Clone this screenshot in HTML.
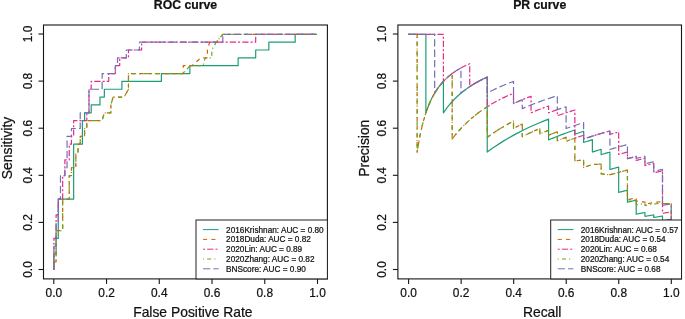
<!DOCTYPE html><html><head><meta charset="utf-8"><title>ROC and PR curves</title><style>html,body{margin:0;padding:0;background:#fff}svg{display:block;will-change:transform}text{font-family:"Liberation Sans",Arial,Helvetica,sans-serif;fill:#111;stroke:#111;stroke-width:0.22px}</style></head><body>
<svg width="685" height="319" viewBox="0 0 685 319">
<rect width="685" height="319" fill="#fff"/>
<path d="M53.90,269.80 L53.90,254.10 L56.09,254.10 L56.09,238.40 L58.29,238.40 L58.29,199.15 L73.64,199.15 L73.64,144.20 L82.41,144.20 L82.41,120.65 L84.61,120.65 L84.61,112.80 L91.19,112.80 L91.19,104.95 L99.96,104.95 L99.96,97.10 L104.35,97.10 L104.35,89.25 L121.89,89.25 L121.89,81.40 L161.37,81.40 L161.37,73.55 L189.89,73.55 L189.89,65.70 L238.14,65.70 L238.14,57.85 L255.69,57.85 L255.69,50.00 L268.85,50.00 L268.85,42.15 L295.17,42.15 L295.17,34.30 L317.10,34.30" fill="none" stroke="#1B9E77" stroke-width="1.2" stroke-linejoin="round"/>
<path d="M53.90,269.80 L53.90,261.95 L56.09,261.95 L56.09,230.55 L62.67,230.55 L62.67,199.15 L69.25,199.15 L69.25,175.60 L71.45,175.60 L71.45,167.75 L75.83,167.75 L75.83,152.05 L78.03,152.05 L78.03,144.20 L80.22,144.20 L80.22,136.35 L84.61,136.35 L84.61,128.50 L86.80,128.50 L86.80,120.65 L102.15,120.65 L104.35,112.80 L110.93,112.80 L110.93,104.95 L113.12,97.10 L124.09,97.10 L128.47,89.25 L128.47,73.55 L183.31,73.55 L183.31,65.70 L192.08,65.70 L200.85,57.85 L207.43,57.85 L207.43,50.00 L209.63,42.15 L216.21,42.15 L222.79,34.30 L317.10,34.30" fill="none" stroke="#D95F02" stroke-width="1.2" stroke-dasharray="4.16,4.16" stroke-linejoin="round"/>
<path d="M53.90,269.80 L53.90,238.40 L56.09,238.40 L56.09,214.85 L58.29,214.85 L58.29,199.15 L62.67,199.15 L62.67,175.60 L64.87,175.60 L64.87,159.90 L69.25,159.90 L69.25,144.20 L71.45,144.20 L71.45,136.35 L73.64,136.35 L73.64,120.65 L86.80,120.65 L86.80,112.80 L88.99,112.80 L88.99,89.25 L91.19,89.25 L91.19,81.40 L108.73,81.40 L108.73,73.55 L115.31,73.55 L115.31,65.70 L119.70,65.70 L119.70,57.85 L128.47,57.85 L128.47,50.00 L141.63,50.00 L141.63,42.15 L255.69,42.15 L255.69,34.30 L317.10,34.30" fill="none" stroke="#E7298A" stroke-width="1.2" stroke-dasharray="2.08,2.08,6.24,2.08" stroke-linejoin="round"/>
<path d="M53.90,269.80 L53.90,261.95 L56.09,261.95 L56.09,230.55 L62.67,230.55 L62.67,199.15 L69.25,199.15 L69.25,175.60 L71.45,175.60 L71.45,167.75 L75.83,167.75 L75.83,152.05 L78.03,152.05 L78.03,144.20 L80.22,144.20 L80.22,136.35 L84.61,136.35 L84.61,128.50 L86.80,128.50 L86.80,120.65 L102.15,120.65 L104.35,112.80 L110.93,112.80 L110.93,104.95 L113.12,97.10 L124.09,97.10 L128.47,89.25 L128.47,73.55 L183.31,73.55 L189.89,65.70 L203.05,65.70 L205.24,57.85 L211.82,57.85 L211.82,50.00 L216.21,42.15 L222.79,34.30 L317.10,34.30" fill="none" stroke="#66A61E" stroke-width="1.2" stroke-dasharray="1.04,3.12,4.16,3.12" stroke-linejoin="round"/>
<path d="M53.90,269.80 L53.90,246.25 L56.09,246.25 L56.09,222.70 L58.29,222.70 L58.29,199.15 L60.48,199.15 L60.48,175.60 L64.87,175.60 L64.87,167.75 L67.06,167.75 L67.06,136.35 L71.45,136.35 L71.45,128.50 L80.22,128.50 L80.22,112.80 L88.99,112.80 L88.99,89.25 L102.15,89.25 L102.15,73.55 L115.31,73.55 L115.31,65.70 L117.51,65.70 L117.51,57.85 L126.28,57.85 L126.28,50.00 L139.44,50.00 L139.44,42.15 L222.79,42.15 L222.79,34.30 L317.10,34.30" fill="none" stroke="#7570B3" stroke-width="1.2" stroke-dasharray="7.28,3.12" stroke-linejoin="round"/>
<rect x="43.5" y="25.0" width="283.9" height="253.89999999999998" fill="none" stroke="#151515" stroke-width="1.1"/>
<line x1="53.80" y1="278.9" x2="53.80" y2="283.9" stroke="#151515" stroke-width="1.1"/>
<line x1="43.5" y1="269.50" x2="38.5" y2="269.50" stroke="#151515" stroke-width="1.1"/>
<text x="53.80" y="296.8" font-size="11.9" text-anchor="middle">0.0</text>
<text transform="translate(31.90,269.50) rotate(-90)" font-size="11.9" text-anchor="middle">0.0</text>
<line x1="106.54" y1="278.9" x2="106.54" y2="283.9" stroke="#151515" stroke-width="1.1"/>
<line x1="43.5" y1="222.40" x2="38.5" y2="222.40" stroke="#151515" stroke-width="1.1"/>
<text x="106.54" y="296.8" font-size="11.9" text-anchor="middle">0.2</text>
<text transform="translate(31.90,222.40) rotate(-90)" font-size="11.9" text-anchor="middle">0.2</text>
<line x1="159.28" y1="278.9" x2="159.28" y2="283.9" stroke="#151515" stroke-width="1.1"/>
<line x1="43.5" y1="175.30" x2="38.5" y2="175.30" stroke="#151515" stroke-width="1.1"/>
<text x="159.28" y="296.8" font-size="11.9" text-anchor="middle">0.4</text>
<text transform="translate(31.90,175.30) rotate(-90)" font-size="11.9" text-anchor="middle">0.4</text>
<line x1="212.02" y1="278.9" x2="212.02" y2="283.9" stroke="#151515" stroke-width="1.1"/>
<line x1="43.5" y1="128.20" x2="38.5" y2="128.20" stroke="#151515" stroke-width="1.1"/>
<text x="212.02" y="296.8" font-size="11.9" text-anchor="middle">0.6</text>
<text transform="translate(31.90,128.20) rotate(-90)" font-size="11.9" text-anchor="middle">0.6</text>
<line x1="264.76" y1="278.9" x2="264.76" y2="283.9" stroke="#151515" stroke-width="1.1"/>
<line x1="43.5" y1="81.10" x2="38.5" y2="81.10" stroke="#151515" stroke-width="1.1"/>
<text x="264.76" y="296.8" font-size="11.9" text-anchor="middle">0.8</text>
<text transform="translate(31.90,81.10) rotate(-90)" font-size="11.9" text-anchor="middle">0.8</text>
<line x1="317.50" y1="278.9" x2="317.50" y2="283.9" stroke="#151515" stroke-width="1.1"/>
<line x1="43.5" y1="34.00" x2="38.5" y2="34.00" stroke="#151515" stroke-width="1.1"/>
<text x="317.50" y="296.8" font-size="11.9" text-anchor="middle">1.0</text>
<text transform="translate(31.90,34.00) rotate(-90)" font-size="11.9" text-anchor="middle">1.0</text>
<text x="192.9" y="316.7" font-size="13.86" text-anchor="middle">False Positive Rate</text>
<text transform="translate(11.5,148) rotate(-90)" font-size="13.86" text-anchor="middle">Sensitivity</text>
<text x="185.45" y="8.9" font-size="12.25" font-weight="bold" text-anchor="middle">ROC curve</text>
<rect x="196.0" y="220.0" width="131.39999999999998" height="58.89999999999998" fill="#fff" stroke="#222" stroke-width="1"/>
<line x1="203.0" y1="229.60" x2="218.7" y2="229.60" stroke="#1B9E77" stroke-width="1.0"/>
<text x="226.1" y="232.50" font-size="8.22">2016Krishnan: AUC = 0.80</text>
<line x1="203.0" y1="239.40" x2="218.7" y2="239.40" stroke="#D95F02" stroke-width="1.0" stroke-dasharray="4.16,4.16"/>
<text x="226.1" y="242.30" font-size="8.22">2018Duda: AUC = 0.82</text>
<line x1="203.0" y1="249.20" x2="218.7" y2="249.20" stroke="#E7298A" stroke-width="1.0" stroke-dasharray="2.08,2.08,6.24,2.08"/>
<text x="226.1" y="252.10" font-size="8.22">2020Lin: AUC = 0.89</text>
<line x1="203.0" y1="259.00" x2="218.7" y2="259.00" stroke="#66A61E" stroke-width="1.0" stroke-dasharray="1.04,3.12,4.16,3.12"/>
<text x="226.1" y="261.90" font-size="8.22">2020Zhang: AUC = 0.82</text>
<line x1="203.0" y1="268.80" x2="218.7" y2="268.80" stroke="#7570B3" stroke-width="1.0" stroke-dasharray="7.28,3.12"/>
<text x="226.1" y="271.70" font-size="8.22">BNScore: AUC = 0.90</text>
<path d="M408.36,34.30 L409.82,34.30 L411.28,34.30 L412.74,34.30 L414.20,34.30 L415.66,34.30 L417.12,34.30 L418.58,34.30 L420.04,34.30 L421.50,34.30 L422.97,34.30 L424.43,34.30 L425.89,34.30 L425.89,112.80 L427.35,108.67 L428.81,104.95 L430.27,101.59 L431.73,98.53 L433.19,95.73 L434.65,93.18 L436.11,90.82 L437.57,88.65 L439.03,86.63 L440.49,84.76 L441.95,83.02 L443.41,81.40 L443.41,112.80 L447.06,107.70 L450.72,103.23 L454.37,99.27 L458.02,95.73 L461.67,92.57 L465.32,89.71 L468.97,87.12 L472.62,84.76 L476.28,82.61 L479.93,80.63 L483.58,78.80 L487.23,77.12 L487.23,152.05 L492.34,148.35 L497.45,144.88 L502.57,141.62 L507.68,138.54 L512.79,135.63 L517.90,132.88 L523.01,130.28 L528.13,127.81 L533.24,125.46 L538.35,123.23 L543.46,121.11 L548.57,119.08 L548.57,139.87 L550.76,138.97 L552.95,138.08 L555.15,137.21 L557.34,136.35 L559.53,135.51 L561.72,134.68 L563.91,133.86 L566.10,133.06 L568.29,132.27 L570.48,131.49 L572.67,130.73 L574.86,129.97 L574.86,134.21 L575.59,133.96 L576.32,133.71 L577.05,133.46 L577.78,133.21 L578.51,132.96 L579.25,132.72 L579.98,132.47 L580.71,132.23 L581.44,131.99 L582.17,131.75 L582.90,131.51 L583.63,131.27 L583.63,142.50 L584.36,142.26 L585.09,142.02 L585.82,141.78 L586.55,141.54 L587.28,141.30 L588.01,141.06 L588.74,140.82 L589.47,140.59 L590.20,140.35 L590.93,140.12 L591.66,139.89 L592.39,139.66 L592.39,152.05 L593.12,151.82 L593.85,151.58 L594.58,151.35 L595.31,151.12 L596.04,150.89 L596.77,150.66 L597.50,150.44 L598.23,150.21 L598.96,149.98 L599.69,149.76 L600.42,149.53 L601.15,149.31 L601.15,154.67 L601.88,154.44 L602.61,154.22 L603.34,154.00 L604.07,153.78 L604.80,153.56 L605.53,153.34 L606.27,153.13 L607.00,152.91 L607.73,152.69 L608.46,152.48 L609.19,152.26 L609.92,152.05 L609.92,169.49 L610.65,169.29 L611.38,169.08 L612.11,168.87 L612.84,168.67 L613.57,168.46 L614.30,168.25 L615.03,168.05 L615.76,167.85 L616.49,167.64 L617.22,167.44 L617.95,167.24 L618.68,167.04 L618.68,192.38 L619.41,192.20 L620.14,192.02 L620.87,191.84 L621.60,191.66 L622.33,191.48 L623.06,191.30 L623.79,191.12 L624.52,190.94 L625.25,190.77 L625.98,190.59 L626.71,190.41 L627.44,190.24 L627.44,202.13 L628.17,201.97 L628.90,201.81 L629.63,201.65 L630.36,201.49 L631.09,201.33 L631.83,201.17 L632.56,201.01 L633.29,200.85 L634.02,200.69 L634.75,200.54 L635.48,200.38 L636.21,200.22 L636.21,214.14 L636.94,214.00 L637.67,213.86 L638.40,213.73 L639.13,213.59 L639.86,213.46 L640.59,213.32 L641.32,213.19 L642.05,213.05 L642.78,212.92 L643.51,212.78 L644.24,212.65 L644.97,212.52 L644.97,216.37 L645.70,216.24 L646.43,216.11 L647.16,215.99 L647.89,215.86 L648.62,215.73 L649.35,215.61 L650.08,215.48 L650.81,215.35 L651.54,215.23 L652.27,215.10 L653.00,214.98 L653.73,214.85 L653.73,217.47 L654.46,217.35 L655.19,217.22 L655.92,217.10 L656.65,216.98 L657.38,216.86 L658.12,216.74 L658.85,216.62 L659.58,216.50 L660.31,216.38 L661.04,216.26 L661.77,216.14 L662.50,216.02 L662.50,220.67 L663.23,220.56 L663.96,220.44 L664.69,220.33 L665.42,220.22 L666.15,220.11 L666.88,220.00 L667.61,219.89 L668.34,219.78 L669.07,219.67 L669.80,219.56 L670.53,219.45 L671.26,219.34 L671.26,222.70" fill="none" stroke="#1B9E77" stroke-width="1.2" stroke-linejoin="round"/>
<path d="M408.36,34.30 L409.09,34.30 L409.82,34.30 L410.55,34.30 L411.28,34.30 L412.01,34.30 L412.74,34.30 L413.47,34.30 L414.20,34.30 L414.93,34.30 L415.66,34.30 L416.39,34.30 L417.12,34.30 L417.12,152.05 L420.04,135.23 L422.97,122.61 L425.89,112.80 L428.81,104.95 L431.73,98.53 L434.65,93.18 L437.57,88.65 L440.49,84.76 L443.41,81.40 L446.33,78.46 L449.26,75.86 L452.18,73.55 L452.18,138.97 L455.10,135.23 L458.02,131.75 L460.94,128.50 L463.86,125.46 L466.78,122.61 L469.70,119.94 L472.62,117.42 L475.55,115.04 L478.47,112.80 L481.39,110.68 L484.31,108.67 L487.23,106.76 L487.23,137.33 L489.42,135.75 L491.61,134.21 L493.80,132.72 L495.99,131.27 L498.18,129.87 L500.38,128.50 L502.57,127.17 L504.76,125.88 L506.95,124.63 L509.14,123.41 L511.33,122.22 L513.52,121.06 L513.52,128.50 L514.25,128.11 L514.98,127.72 L515.71,127.34 L516.44,126.96 L517.17,126.58 L517.90,126.20 L518.63,125.83 L519.36,125.46 L520.09,125.10 L520.82,124.73 L521.55,124.37 L522.28,124.01 L522.28,136.69 L523.74,135.95 L525.20,135.23 L526.66,134.51 L528.13,133.81 L529.59,133.11 L531.05,132.43 L532.51,131.75 L533.97,131.08 L535.43,130.42 L536.89,129.77 L538.35,129.13 L539.81,128.50 L539.81,133.93 L540.54,133.62 L541.27,133.30 L542.00,132.99 L542.73,132.67 L543.46,132.36 L544.19,132.05 L544.92,131.75 L545.65,131.44 L546.38,131.14 L547.11,130.84 L547.84,130.54 L548.57,130.24 L548.57,135.23 L549.30,134.93 L550.03,134.63 L550.76,134.34 L551.49,134.04 L552.22,133.75 L552.95,133.46 L553.69,133.17 L554.42,132.88 L555.15,132.60 L555.88,132.31 L556.61,132.03 L557.34,131.75 L557.34,140.65 L558.07,140.37 L558.80,140.09 L559.53,139.80 L560.26,139.52 L560.99,139.24 L561.72,138.97 L562.45,138.69 L563.18,138.42 L563.91,138.14 L564.64,137.87 L565.37,137.60 L566.10,137.33 L566.10,141.35 L566.83,141.08 L567.56,140.81 L568.29,140.54 L569.02,140.28 L569.75,140.01 L570.48,139.75 L571.21,139.49 L571.94,139.23 L572.67,138.97 L573.40,138.71 L574.13,138.45 L574.86,138.20 L574.86,160.67 L575.59,160.63 L576.32,160.60 L577.05,160.56 L577.78,160.53 L578.51,160.49 L579.25,160.46 L579.98,160.43 L580.71,160.39 L581.44,160.36 L582.17,160.33 L582.90,160.30 L583.63,160.27 L583.63,167.41 L584.36,167.17 L585.09,166.93 L585.82,166.69 L586.55,166.45 L587.28,166.21 L588.01,165.98 L588.74,165.74 L589.47,165.51 L590.20,165.27 L590.93,165.04 L591.66,164.81 L592.39,164.58 L593.12,164.53 L593.85,164.49 L594.58,164.44 L595.31,164.40 L596.04,164.36 L596.77,164.32 L597.50,164.27 L598.23,164.23 L598.96,164.19 L599.69,164.15 L600.42,164.11 L601.15,164.07 L601.15,173.86 L601.88,173.94 L602.61,174.02 L603.34,174.09 L604.07,174.17 L604.80,174.25 L605.53,174.33 L606.27,174.40 L607.00,174.48 L607.73,174.55 L608.46,174.63 L609.19,174.70 L609.92,174.77 L611.38,174.36 L612.84,173.96 L614.30,173.55 L615.76,173.15 L617.22,172.75 L618.68,172.35 L620.14,171.96 L621.60,171.56 L623.06,171.17 L624.52,170.78 L625.98,170.40 L627.44,170.01 L627.44,199.71 L628.17,199.55 L628.90,199.38 L629.63,199.22 L630.36,199.06 L631.09,198.89 L631.83,198.73 L632.56,198.57 L633.29,198.41 L634.02,198.25 L634.75,198.09 L635.48,197.93 L636.21,197.76 L636.21,201.00 L636.94,201.10 L637.67,201.20 L638.40,201.30 L639.13,201.40 L639.86,201.50 L640.59,201.60 L641.32,201.69 L642.05,201.79 L642.78,201.88 L643.51,201.97 L644.24,202.06 L644.97,202.16 L644.97,204.25 L645.70,204.10 L646.43,203.96 L647.16,203.81 L647.89,203.67 L648.62,203.52 L649.35,203.38 L650.08,203.23 L650.81,203.09 L651.54,202.94 L652.27,202.80 L653.00,202.66 L653.73,202.51 L654.46,202.43 L655.19,202.34 L655.92,202.26 L656.65,202.17 L657.38,202.09 L658.12,202.00 L658.85,201.92 L659.58,201.84 L660.31,201.75 L661.04,201.67 L661.77,201.59 L662.50,201.50 L662.50,203.49 L663.23,203.52 L663.96,203.54 L664.69,203.57 L665.42,203.59 L666.15,203.61 L666.88,203.64 L667.61,203.66 L668.34,203.68 L669.07,203.70 L669.80,203.73 L670.53,203.75 L671.26,203.77 L671.26,222.70" fill="none" stroke="#D95F02" stroke-width="1.2" stroke-dasharray="4.16,4.16" stroke-linejoin="round"/>
<path d="M408.36,34.30 L411.28,34.30 L414.20,34.30 L417.12,34.30 L420.04,34.30 L422.97,34.30 L425.89,34.30 L428.81,34.30 L431.73,34.30 L434.65,34.30 L437.57,34.30 L440.49,34.30 L443.41,34.30 L443.41,81.40 L445.60,79.16 L447.80,77.12 L449.99,75.26 L452.18,73.55 L454.37,71.98 L456.56,70.53 L458.75,69.19 L460.94,67.94 L463.13,66.78 L465.32,65.70 L467.51,64.69 L469.70,63.74 L469.70,86.63 L471.16,85.68 L472.62,84.76 L474.09,83.88 L475.55,83.02 L477.01,82.20 L478.47,81.40 L479.93,80.63 L481.39,79.88 L482.85,79.16 L484.31,78.46 L485.77,77.78 L487.23,77.12 L487.23,106.76 L489.42,105.39 L491.61,104.08 L493.80,102.81 L495.99,101.59 L498.18,100.41 L500.38,99.27 L502.57,98.16 L504.76,97.10 L506.95,96.07 L509.14,95.07 L511.33,94.11 L513.52,93.18 L513.52,103.56 L514.98,102.89 L516.44,102.23 L517.90,101.59 L519.36,100.95 L520.82,100.33 L522.28,99.72 L523.74,99.12 L525.20,98.53 L526.66,97.95 L528.13,97.38 L529.59,96.82 L531.05,96.27 L531.05,112.80 L532.51,112.18 L533.97,111.57 L535.43,110.97 L536.89,110.38 L538.35,109.80 L539.81,109.23 L541.27,108.67 L542.73,108.11 L544.19,107.57 L545.65,107.03 L547.11,106.50 L548.57,105.97 L548.57,112.80 L549.30,112.53 L550.03,112.26 L550.76,111.99 L551.49,111.72 L552.22,111.46 L552.95,111.20 L553.69,110.94 L554.42,110.68 L555.15,110.42 L555.88,110.17 L556.61,109.91 L557.34,109.66 L557.34,115.82 L558.80,115.30 L560.26,114.79 L561.72,114.28 L563.18,113.78 L564.64,113.29 L566.10,112.80 L567.56,112.32 L569.02,111.84 L570.48,111.37 L571.94,110.91 L573.40,110.45 L574.86,110.00 L574.86,138.20 L575.59,137.94 L576.32,137.69 L577.05,137.44 L577.78,137.19 L578.51,136.94 L579.25,136.69 L579.98,136.44 L580.71,136.20 L581.44,135.95 L582.17,135.71 L582.90,135.47 L583.63,135.23 L583.63,138.97 L585.82,138.24 L588.01,137.53 L590.20,136.83 L592.39,136.14 L594.58,135.45 L596.77,134.78 L598.96,134.11 L601.15,133.46 L603.34,132.81 L605.53,132.17 L607.73,131.54 L609.92,130.92 L609.92,134.39 L610.65,134.18 L611.38,133.97 L612.11,133.77 L612.84,133.56 L613.57,133.36 L614.30,133.15 L615.03,132.95 L615.76,132.75 L616.49,132.55 L617.22,132.34 L617.95,132.15 L618.68,131.95 L618.68,154.45 L619.41,154.25 L620.14,154.05 L620.87,153.84 L621.60,153.64 L622.33,153.44 L623.06,153.24 L623.79,153.04 L624.52,152.84 L625.25,152.64 L625.98,152.44 L626.71,152.25 L627.44,152.05 L627.44,158.72 L628.17,158.52 L628.90,158.33 L629.63,158.13 L630.36,157.94 L631.09,157.74 L631.83,157.55 L632.56,157.36 L633.29,157.17 L634.02,156.98 L634.75,156.79 L635.48,156.60 L636.21,156.41 L636.21,160.46 L636.94,160.27 L637.67,160.09 L638.40,159.90 L639.13,159.71 L639.86,159.53 L640.59,159.34 L641.32,159.16 L642.05,158.98 L642.78,158.79 L643.51,158.61 L644.24,158.43 L644.97,158.25 L644.97,165.56 L645.70,165.38 L646.43,165.20 L647.16,165.03 L647.89,164.85 L648.62,164.67 L649.35,164.50 L650.08,164.32 L650.81,164.14 L651.54,163.97 L652.27,163.79 L653.00,163.62 L653.73,163.45 L653.73,172.83 L654.46,172.66 L655.19,172.49 L655.92,172.32 L656.65,172.15 L657.38,171.99 L658.12,171.82 L658.85,171.65 L659.58,171.48 L660.31,171.32 L661.04,171.15 L661.77,170.99 L662.50,170.82 L662.50,213.36 L663.23,213.23 L663.96,213.11 L664.69,212.99 L665.42,212.87 L666.15,212.74 L666.88,212.62 L667.61,212.50 L668.34,212.38 L669.07,212.25 L669.80,212.13 L670.53,212.01 L671.26,211.89 L671.26,222.70" fill="none" stroke="#E7298A" stroke-width="1.2" stroke-dasharray="2.08,2.08,6.24,2.08" stroke-linejoin="round"/>
<path d="M408.36,34.30 L409.09,34.30 L409.82,34.30 L410.55,34.30 L411.28,34.30 L412.01,34.30 L412.74,34.30 L413.47,34.30 L414.20,34.30 L414.93,34.30 L415.66,34.30 L416.39,34.30 L417.12,34.30 L417.12,152.05 L420.04,135.23 L422.97,122.61 L425.89,112.80 L428.81,104.95 L431.73,98.53 L434.65,93.18 L437.57,88.65 L440.49,84.76 L443.41,81.40 L446.33,78.46 L449.26,75.86 L452.18,73.55 L452.18,138.97 L455.10,135.23 L458.02,131.75 L460.94,128.50 L463.86,125.46 L466.78,122.61 L469.70,119.94 L472.62,117.42 L475.55,115.04 L478.47,112.80 L481.39,110.68 L484.31,108.67 L487.23,106.76 L487.23,137.33 L489.42,135.75 L491.61,134.21 L493.80,132.72 L495.99,131.27 L498.18,129.87 L500.38,128.50 L502.57,127.17 L504.76,125.88 L506.95,124.63 L509.14,123.41 L511.33,122.22 L513.52,121.06 L513.52,128.50 L514.25,128.11 L514.98,127.72 L515.71,127.34 L516.44,126.96 L517.17,126.58 L517.90,126.20 L518.63,125.83 L519.36,125.46 L520.09,125.10 L520.82,124.73 L521.55,124.37 L522.28,124.01 L522.28,136.69 L523.74,135.95 L525.20,135.23 L526.66,134.51 L528.13,133.81 L529.59,133.11 L531.05,132.43 L532.51,131.75 L533.97,131.08 L535.43,130.42 L536.89,129.77 L538.35,129.13 L539.81,128.50 L539.81,133.93 L540.54,133.62 L541.27,133.30 L542.00,132.99 L542.73,132.67 L543.46,132.36 L544.19,132.05 L544.92,131.75 L545.65,131.44 L546.38,131.14 L547.11,130.84 L547.84,130.54 L548.57,130.24 L548.57,135.23 L549.30,134.93 L550.03,134.63 L550.76,134.34 L551.49,134.04 L552.22,133.75 L552.95,133.46 L553.69,133.17 L554.42,132.88 L555.15,132.60 L555.88,132.31 L556.61,132.03 L557.34,131.75 L557.34,140.65 L558.07,140.37 L558.80,140.09 L559.53,139.80 L560.26,139.52 L560.99,139.24 L561.72,138.97 L562.45,138.69 L563.18,138.42 L563.91,138.14 L564.64,137.87 L565.37,137.60 L566.10,137.33 L566.10,141.35 L566.83,141.08 L567.56,140.81 L568.29,140.54 L569.02,140.28 L569.75,140.01 L570.48,139.75 L571.21,139.49 L571.94,139.23 L572.67,138.97 L573.40,138.71 L574.13,138.45 L574.86,138.20 L574.86,160.67 L575.59,160.63 L576.32,160.60 L577.05,160.56 L577.78,160.53 L578.51,160.49 L579.25,160.46 L579.98,160.43 L580.71,160.39 L581.44,160.36 L582.17,160.33 L582.90,160.30 L583.63,160.27 L583.63,167.41 L584.36,167.17 L585.09,166.93 L585.82,166.69 L586.55,166.45 L587.28,166.21 L588.01,165.98 L588.74,165.74 L589.47,165.51 L590.20,165.27 L590.93,165.04 L591.66,164.81 L592.39,164.58 L593.12,164.53 L593.85,164.49 L594.58,164.44 L595.31,164.40 L596.04,164.36 L596.77,164.32 L597.50,164.27 L598.23,164.23 L598.96,164.19 L599.69,164.15 L600.42,164.11 L601.15,164.07 L601.15,173.86 L601.88,173.94 L602.61,174.02 L603.34,174.09 L604.07,174.17 L604.80,174.25 L605.53,174.33 L606.27,174.40 L607.00,174.48 L607.73,174.55 L608.46,174.63 L609.19,174.70 L609.92,174.77 L611.38,174.36 L612.84,173.96 L614.30,173.55 L615.76,173.15 L617.22,172.75 L618.68,172.35 L620.14,171.96 L621.60,171.56 L623.06,171.17 L624.52,170.78 L625.98,170.40 L627.44,170.01 L627.44,199.71 L628.17,199.76 L628.90,199.80 L629.63,199.84 L630.36,199.89 L631.09,199.93 L631.83,199.97 L632.56,200.01 L633.29,200.06 L634.02,200.10 L634.75,200.14 L635.48,200.18 L636.21,200.22 L636.21,204.66 L636.94,204.57 L637.67,204.48 L638.40,204.38 L639.13,204.29 L639.86,204.20 L640.59,204.11 L641.32,204.02 L642.05,203.93 L642.78,203.84 L643.51,203.75 L644.24,203.66 L644.97,203.57 L644.97,205.57 L645.70,205.43 L646.43,205.28 L647.16,205.14 L647.89,205.00 L648.62,204.85 L649.35,204.71 L650.08,204.57 L650.81,204.43 L651.54,204.28 L652.27,204.14 L653.00,204.00 L653.73,203.86 L654.46,203.83 L655.19,203.80 L655.92,203.77 L656.65,203.74 L657.38,203.70 L658.12,203.67 L658.85,203.64 L659.58,203.61 L660.31,203.58 L661.04,203.55 L661.77,203.52 L662.50,203.49 L663.23,203.52 L663.96,203.54 L664.69,203.57 L665.42,203.59 L666.15,203.61 L666.88,203.64 L667.61,203.66 L668.34,203.68 L669.07,203.70 L669.80,203.73 L670.53,203.75 L671.26,203.77 L671.26,222.70" fill="none" stroke="#66A61E" stroke-width="1.2" stroke-dasharray="1.04,3.12,4.16,3.12" stroke-linejoin="round"/>
<path d="M408.36,34.30 L410.55,34.30 L412.74,34.30 L414.93,34.30 L417.12,34.30 L419.31,34.30 L421.50,34.30 L423.70,34.30 L425.89,34.30 L428.08,34.30 L430.27,34.30 L432.46,34.30 L434.65,34.30 L434.65,93.18 L436.84,89.71 L439.03,86.63 L441.22,83.88 L443.41,81.40 L445.60,79.16 L447.80,77.12 L449.99,75.26 L452.18,73.55 L454.37,71.98 L456.56,70.53 L458.75,69.19 L460.94,67.94 L460.94,93.18 L463.13,91.39 L465.32,89.71 L467.51,88.13 L469.70,86.63 L471.89,85.22 L474.09,83.88 L476.28,82.61 L478.47,81.40 L480.66,80.25 L482.85,79.16 L485.04,78.11 L487.23,77.12 L487.23,93.18 L489.42,91.97 L491.61,90.82 L493.80,89.71 L495.99,88.65 L498.18,87.62 L500.38,86.63 L502.57,85.68 L504.76,84.76 L506.95,83.88 L509.14,83.02 L511.33,82.20 L513.52,81.40 L513.52,103.56 L514.25,103.23 L514.98,102.89 L515.71,102.56 L516.44,102.23 L517.17,101.91 L517.90,101.59 L518.63,101.27 L519.36,100.95 L520.09,100.64 L520.82,100.33 L521.55,100.02 L522.28,99.72 L522.28,108.67 L525.20,107.39 L528.13,106.15 L531.05,104.95 L533.97,103.79 L536.89,102.67 L539.81,101.59 L542.73,100.53 L545.65,99.52 L548.57,98.53 L551.49,97.57 L554.42,96.64 L557.34,95.73 L557.34,109.66 L558.07,109.41 L558.80,109.16 L559.53,108.91 L560.26,108.67 L560.99,108.42 L561.72,108.18 L562.45,107.94 L563.18,107.70 L563.91,107.47 L564.64,107.23 L565.37,106.99 L566.10,106.76 L566.10,128.50 L567.56,127.98 L569.02,127.46 L570.48,126.96 L571.94,126.45 L573.40,125.95 L574.86,125.46 L576.32,124.97 L577.78,124.49 L579.25,124.01 L580.71,123.54 L582.17,123.07 L583.63,122.61 L583.63,138.97 L585.82,138.24 L588.01,137.53 L590.20,136.83 L592.39,136.14 L594.58,135.45 L596.77,134.78 L598.96,134.11 L601.15,133.46 L603.34,132.81 L605.53,132.17 L607.73,131.54 L609.92,130.92 L609.92,149.43 L611.38,149.01 L612.84,148.59 L614.30,148.17 L615.76,147.75 L617.22,147.34 L618.68,146.93 L620.14,146.52 L621.60,146.12 L623.06,145.72 L624.52,145.32 L625.98,144.93 L627.44,144.53 L627.44,158.72 L628.17,158.52 L628.90,158.33 L629.63,158.13 L630.36,157.94 L631.09,157.74 L631.83,157.55 L632.56,157.36 L633.29,157.17 L634.02,156.98 L634.75,156.79 L635.48,156.60 L636.21,156.41 L636.21,158.47 L636.94,158.28 L637.67,158.10 L638.40,157.91 L639.13,157.72 L639.86,157.54 L640.59,157.35 L641.32,157.17 L642.05,156.99 L642.78,156.80 L643.51,156.62 L644.24,156.44 L644.97,156.26 L644.97,163.83 L645.70,163.65 L646.43,163.47 L647.16,163.29 L647.89,163.11 L648.62,162.93 L649.35,162.75 L650.08,162.58 L650.81,162.40 L651.54,162.23 L652.27,162.05 L653.00,161.88 L653.73,161.70 L653.73,171.38 L654.46,171.21 L655.19,171.04 L655.92,170.87 L656.65,170.70 L657.38,170.53 L658.12,170.37 L658.85,170.20 L659.58,170.03 L660.31,169.86 L661.04,169.70 L661.77,169.53 L662.50,169.37 L662.50,205.37 L663.23,205.24 L663.96,205.10 L664.69,204.97 L665.42,204.83 L666.15,204.70 L666.88,204.57 L667.61,204.43 L668.34,204.30 L669.07,204.17 L669.80,204.04 L670.53,203.90 L671.26,203.77 L671.26,222.70" fill="none" stroke="#7570B3" stroke-width="1.2" stroke-dasharray="7.28,3.12" stroke-linejoin="round"/>
<rect x="397.9" y="25.0" width="283.6" height="253.89999999999998" fill="none" stroke="#151515" stroke-width="1.1"/>
<line x1="408.60" y1="278.9" x2="408.60" y2="283.9" stroke="#151515" stroke-width="1.1"/>
<line x1="397.9" y1="269.50" x2="392.9" y2="269.50" stroke="#151515" stroke-width="1.1"/>
<text x="408.60" y="296.8" font-size="11.9" text-anchor="middle">0.0</text>
<text transform="translate(386.30,269.50) rotate(-90)" font-size="11.9" text-anchor="middle">0.0</text>
<line x1="461.14" y1="278.9" x2="461.14" y2="283.9" stroke="#151515" stroke-width="1.1"/>
<line x1="397.9" y1="222.40" x2="392.9" y2="222.40" stroke="#151515" stroke-width="1.1"/>
<text x="461.14" y="296.8" font-size="11.9" text-anchor="middle">0.2</text>
<text transform="translate(386.30,222.40) rotate(-90)" font-size="11.9" text-anchor="middle">0.2</text>
<line x1="513.68" y1="278.9" x2="513.68" y2="283.9" stroke="#151515" stroke-width="1.1"/>
<line x1="397.9" y1="175.30" x2="392.9" y2="175.30" stroke="#151515" stroke-width="1.1"/>
<text x="513.68" y="296.8" font-size="11.9" text-anchor="middle">0.4</text>
<text transform="translate(386.30,175.30) rotate(-90)" font-size="11.9" text-anchor="middle">0.4</text>
<line x1="566.22" y1="278.9" x2="566.22" y2="283.9" stroke="#151515" stroke-width="1.1"/>
<line x1="397.9" y1="128.20" x2="392.9" y2="128.20" stroke="#151515" stroke-width="1.1"/>
<text x="566.22" y="296.8" font-size="11.9" text-anchor="middle">0.6</text>
<text transform="translate(386.30,128.20) rotate(-90)" font-size="11.9" text-anchor="middle">0.6</text>
<line x1="618.76" y1="278.9" x2="618.76" y2="283.9" stroke="#151515" stroke-width="1.1"/>
<line x1="397.9" y1="81.10" x2="392.9" y2="81.10" stroke="#151515" stroke-width="1.1"/>
<text x="618.76" y="296.8" font-size="11.9" text-anchor="middle">0.8</text>
<text transform="translate(386.30,81.10) rotate(-90)" font-size="11.9" text-anchor="middle">0.8</text>
<line x1="671.30" y1="278.9" x2="671.30" y2="283.9" stroke="#151515" stroke-width="1.1"/>
<line x1="397.9" y1="34.00" x2="392.9" y2="34.00" stroke="#151515" stroke-width="1.1"/>
<text x="671.30" y="296.8" font-size="11.9" text-anchor="middle">1.0</text>
<text transform="translate(386.30,34.00) rotate(-90)" font-size="11.9" text-anchor="middle">1.0</text>
<text x="542.2" y="316.7" font-size="13.86" text-anchor="middle">Recall</text>
<text transform="translate(368.7,148.2) rotate(-90)" font-size="13.86" text-anchor="middle">Precision</text>
<text x="539.70" y="8.9" font-size="12.25" font-weight="bold" text-anchor="middle">PR curve</text>
<rect x="550.7" y="220.0" width="130.79999999999995" height="58.89999999999998" fill="#fff" stroke="#222" stroke-width="1"/>
<line x1="557.7" y1="229.60" x2="573.4000000000001" y2="229.60" stroke="#1B9E77" stroke-width="1.0"/>
<text x="580.8000000000001" y="232.50" font-size="8.22">2016Krishnan: AUC = 0.57</text>
<line x1="557.7" y1="239.40" x2="573.4000000000001" y2="239.40" stroke="#D95F02" stroke-width="1.0" stroke-dasharray="4.16,4.16"/>
<text x="580.8000000000001" y="242.30" font-size="8.22">2018Duda: AUC = 0.54</text>
<line x1="557.7" y1="249.20" x2="573.4000000000001" y2="249.20" stroke="#E7298A" stroke-width="1.0" stroke-dasharray="2.08,2.08,6.24,2.08"/>
<text x="580.8000000000001" y="252.10" font-size="8.22">2020Lin: AUC = 0.68</text>
<line x1="557.7" y1="259.00" x2="573.4000000000001" y2="259.00" stroke="#66A61E" stroke-width="1.0" stroke-dasharray="1.04,3.12,4.16,3.12"/>
<text x="580.8000000000001" y="261.90" font-size="8.22">2020Zhang: AUC = 0.54</text>
<line x1="557.7" y1="268.80" x2="573.4000000000001" y2="268.80" stroke="#7570B3" stroke-width="1.0" stroke-dasharray="7.28,3.12"/>
<text x="580.8000000000001" y="271.70" font-size="8.22">BNScore: AUC = 0.68</text>
</svg></body></html>
